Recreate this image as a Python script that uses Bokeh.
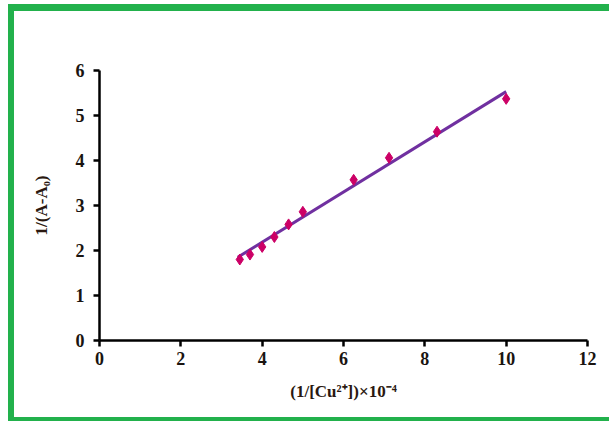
from bokeh.plotting import figure
from bokeh.models import Range1d, FixedTicker, InlineStyleSheet
from bokeh.embed import file_html
from bokeh.resources import INLINE

# data
inv_cu = [3.45, 3.7, 4.0, 4.3, 4.65, 5.0, 6.25, 7.12, 8.3, 10.0]
inv_dA = [1.80, 1.91, 2.08, 2.30, 2.58, 2.86, 3.57, 4.06, 4.64, 5.37]
fit_x = [3.4, 10.0]
fit_y = [1.85, 5.53]
x_ticks = [0, 2, 4, 6, 8, 10, 12]
y_ticks = [0, 1, 2, 3, 4, 5, 6]

p = figure(width=609, height=421, output_backend="svg", toolbar_location=None,
           x_range=Range1d(0, 12), y_range=Range1d(0, 6),
           min_border_left=99, min_border_right=22, min_border_top=70, min_border_bottom=81)
p.outline_line_color = None
p.grid.visible = False
p.background_fill_color = "white"
p.border_fill_color = "white"

p.line(fit_x, fit_y, line_color="#7030A0", line_width=3)
p.scatter(inv_cu, inv_dA, marker="diamond", size=11, fill_color="#CC0066", line_color="#CC0066")

for ax in (p.xaxis[0], p.yaxis[0]):
    ax.axis_line_width = 2.5
    ax.axis_line_color = "black"
    ax.major_tick_line_width = 2.5
    ax.major_tick_line_color = "black"
    ax.major_tick_in = 0
    ax.major_tick_out = 6
    ax.minor_tick_line_color = None
    ax.major_label_text_font = "Liberation Serif"
    ax.major_label_text_font_style = "bold"
    ax.major_label_text_font_size = "18px"
    ax.major_label_text_color = "#1a1410"
    ax.axis_label_text_font = "Liberation Serif"
    ax.axis_label_text_font_style = "bold"
    ax.axis_label_text_font_size = "17px"
    ax.axis_label_text_color = "#2a1810"

p.xaxis[0].ticker = FixedTicker(ticks=x_ticks)
p.yaxis[0].ticker = FixedTicker(ticks=y_ticks)
p.xaxis[0].axis_label = "(1/[Cu²⁺])×10⁻⁴"
p.yaxis[0].axis_label = "1/(A-A₀)"
p.xaxis[0].major_label_standoff = 5
p.yaxis[0].major_label_standoff = 9
p.xaxis[0].axis_label_standoff = 14
p.yaxis[0].axis_label_standoff = 22

p.stylesheets = [InlineStyleSheet(css="""
:host { position: relative; }
:host::after {
  content: "";
  position: absolute;
  left: 8px; top: 4px; right: 0px; bottom: 0px;
  border-left: 6px solid #22B14C;
  border-top: 7px solid #22B14C;
  border-bottom: 4px solid #22B14C;
  pointer-events: none;
  z-index: 10;
}
""")]

open("out.html", "w").write(file_html(p, INLINE))
